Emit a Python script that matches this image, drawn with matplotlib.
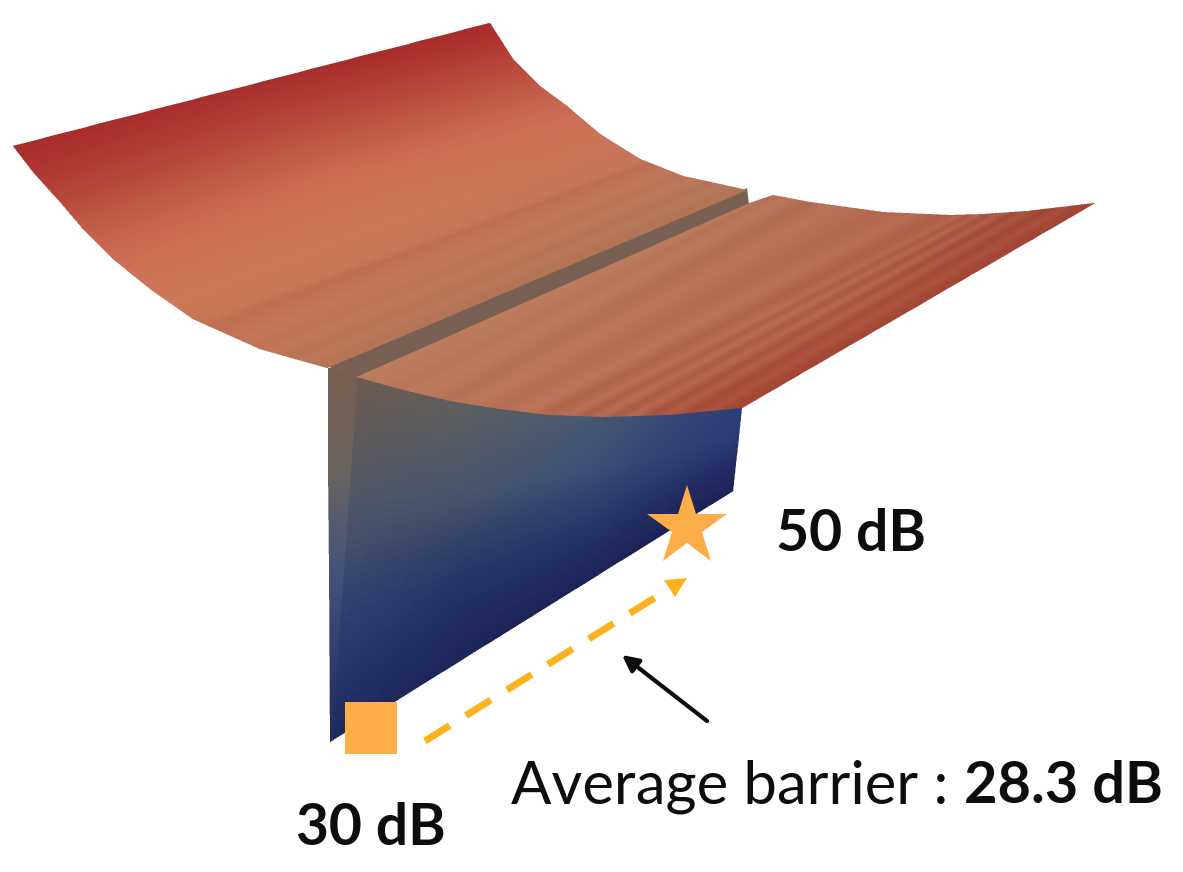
import numpy as np
import matplotlib
matplotlib.use('Agg')
import matplotlib.pyplot as plt
from matplotlib.colors import to_rgb

# outlines in picture pixels
left_near = [(13, 147), (33, 173), (60, 203), (83, 230), (113, 260), (150, 290), (193, 320), (260, 350), (327, 369)]
left_far = [(490, 24), (499, 38), (513, 60), (540, 87), (567, 107), (600, 135), (640, 160), (683, 177), (747, 191)]
right_near = [(357, 378), (400, 390), (450, 402), (500, 410), (550, 416), (605, 418), (667, 416), (742, 409)]
right_far = [(750, 204), (773, 196), (810, 203), (883, 213), (950, 216), (983, 215), (1027, 212), (1095, 204)]
wall_bottom = [(330, 742), (733, 491)]
groove = [(327, 367), (747, 189), (749, 206), (357, 380)]
strip_y = [369, 470, 570, 742]
strip_left = [328, 328, 329, 330]
strip_right = [358, 351, 344, 331]

# colours across the sheets: rows go over the sheet, columns along the streaks
left_t = [0.0, 0.15, 0.3, 0.45, 0.6, 0.8, 1.0]
left_colors = [['#a82d2d', '#a82f2e', '#a82c2c'],
               ['#af3a32', '#b23d35', '#ae3630'],
               ['#bb5040', '#bd5342', '#bb4c3e'],
               ['#c7674f', '#ca6a51', '#c6654e'],
               ['#cf7658', '#cf7759', '#cd7459'],
               ['#ca7a5c', '#c87a5c', '#c67a5c'],
               ['#bd7a5c', '#bb7a5c', '#b87a5e']]
left_streak_t = [0.55, 0.62, 0.68, 0.73, 0.76, 0.78, 0.80, 0.84, 0.87, 0.90, 0.93, 0.96, 0.98]
left_streak_d = [0, -2, 0, -3, -2, -12, -9, -3, -7, -2, -8, -3, -7]

right_t = [0.0, 0.4, 0.7, 0.85, 1.0]
right_colors = [['#bd7d5e', '#bd7c5e', '#b9795c'],
                ['#bc7559', '#ba7257', '#b87055'],
                ['#b66a50', '#b66a50', '#b06048'],
                ['#ae5a44', '#b05e48', '#a85240'],
                ['#a84a38', '#a94c3a', '#a64838']]
right_streak_t = [0.08, 0.14, 0.2, 0.28, 0.34, 0.42, 0.5, 0.56, 0.62, 0.66, 0.7, 0.74, 0.78, 0.82, 0.86, 0.9, 0.94, 0.97]
right_streak_d = [0, -5, 2, -7, 1, -6, 3, -9, 3, -10, 4, -11, 6, -11, 4, -9, 3, -5]

wall_t = [0.0, 0.33, 0.66, 1.0]
wall_colors = [['#6d5b4e', '#505866', '#2e3f72', '#1f2a60'],
               ['#5e5f5f', '#48566c', '#283568', '#1c2458'],
               ['#4a5a72', '#3e4e76', '#293669', '#1c2358'],
               ['#2b3f78', '#2a3a70', '#232c64', '#1b2255']]
strip_t = [0.0, 0.33, 0.66, 1.0]
strip_colors = [['#775f50', '#775f50'], ['#6a635e', '#6a635e'], ['#44557a', '#44557a'], ['#1f2a60', '#1f2a60']]
groove_color = '#786052'

star_xy = (687, 527)
square_xy = (371.5, 727.5)
orange = '#fdad47'
dash_start = (425, 741)
dash_end = (656, 597)
head = [(664, 580), (687, 578), (675, 597)]
amber = '#fdb11c'
arrow_tail = (707, 721)
arrow_tip = (622, 655)


def along(points, t):
    points = np.array(points, dtype=float)
    idx = np.linspace(0, 1, len(points))
    return np.column_stack([np.interp(t, idx, points[:, 0]), np.interp(t, idx, points[:, 1])])


def draw_mesh(ax, side_a, side_b, base_t, table, rows=None, deltas=None, zorder=1):
    # small flat cells, side_a to side_b, colours blended between the table entries
    base_t = np.array(base_t)
    table = np.array([[to_rgb(c) for c in row] for row in table])
    stations = np.linspace(0, 1, table.shape[1])
    t = np.linspace(0, 1, 301)
    s = np.linspace(0, 1, 41)
    a = along(side_a, t)
    b = along(side_b, t)
    X = np.outer(a[:, 0], 1 - s) + np.outer(b[:, 0], s)
    Y = np.outer(a[:, 1], 1 - s) + np.outer(b[:, 1], s)
    tc = (t[:-1] + t[1:]) / 2
    sc = (s[:-1] + s[1:]) / 2
    rgb = np.zeros((len(tc), len(sc), 3))
    for k in range(3):
        by_row = np.array([np.interp(tc, base_t, table[:, j, k]) for j in range(len(stations))])
        for i in range(len(tc)):
            rgb[i, :, k] = np.interp(sc, stations, by_row[:, i])
    if rows is not None:
        rgb += np.interp(tc, rows, deltas)[:, None, None] / 255.0
    ax.pcolormesh(X, Y, np.clip(rgb, 0, 1), shading='flat', antialiased=False, zorder=zorder)


def surface_image():
    # drawn aliased at 3x and averaged down, so cells leave no seams and edges stay soft
    big = plt.figure(figsize=(11.83, 8.72), dpi=300)
    bx = big.add_axes([0, 0, 1, 1])
    bx.set_xlim(0, 1183)
    bx.set_ylim(872, 0)
    bx.axis('off')
    draw_mesh(bx, right_near, wall_bottom, wall_t, wall_colors, zorder=1)
    draw_mesh(bx, list(zip(strip_left, strip_y)), list(zip(strip_right, strip_y)),
              strip_t, strip_colors, zorder=2)
    bx.fill(*zip(*groove), color=groove_color, lw=0, zorder=2)
    draw_mesh(bx, left_near, left_far, left_t, left_colors, left_streak_t, left_streak_d, zorder=3)
    draw_mesh(bx, right_near, right_far, right_t, right_colors, right_streak_t, right_streak_d, zorder=3)
    big.canvas.draw()
    buf = np.asarray(big.canvas.buffer_rgba())[:, :, :3] / 255.0
    plt.close(big)
    h, w = buf.shape[0] // 3, buf.shape[1] // 3
    return buf[:h * 3, :w * 3].reshape(h, 3, w, 3, 3).mean(axis=(1, 3))


fig = plt.figure(figsize=(11.83, 8.72), dpi=100)
ax = fig.add_axes([0, 0, 1, 1])
ax.imshow(surface_image(), extent=(0, 1183, 872, 0), aspect='auto', interpolation='nearest', zorder=1)
ax.set_xlim(0, 1183)
ax.set_ylim(872, 0)
ax.axis('off')

# markers
ax.plot(*star_xy, marker='*', ms=60, mfc=orange, mew=0, ls='none', zorder=5)
ax.plot(*square_xy, marker='s', ms=37, mfc=orange, mew=0, ls='none', zorder=5)
ax.plot([dash_start[0], dash_end[0]], [dash_start[1], dash_end[1]], color=amber, lw=5,
        dashes=(4.2, 2.75), dash_capstyle='butt', zorder=5)
ax.fill(*zip(*head), color=amber, lw=0, zorder=5)
ax.annotate('', xy=arrow_tip, xytext=arrow_tail,
            arrowprops=dict(arrowstyle='-|>', color='#0d0d0d', lw=3, mutation_scale=24,
                            shrinkA=0, shrinkB=0), zorder=6)

# labels
font = ['Lato', 'DejaVu Sans']
ax.text(776, 551, '50 dB', fontsize=41, fontweight='bold', family=font, color='#0d0d0d')
ax.text(296, 845, '30 dB', fontsize=41, fontweight='bold', family=font, color='#0d0d0d')
ax.text(511, 803, 'Average barrier :', fontsize=43, family=font, color='#0d0d0d')
ax.text(964, 803, '28.3 dB', fontsize=41.5, fontweight='bold', family=font, color='#0d0d0d')

fig.savefig('out.png', dpi=100)
